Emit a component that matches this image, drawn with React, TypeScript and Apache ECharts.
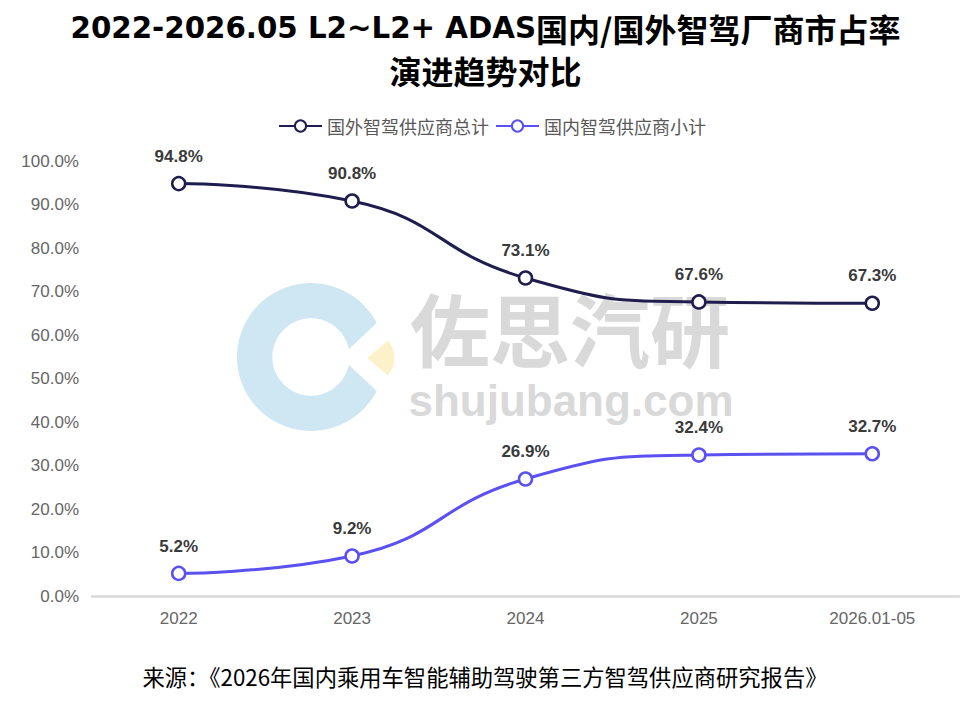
import React, { useEffect, useRef } from "react";
import * as echarts from "echarts";

const categories = ["2022", "2023", "2024", "2025", "2026.01-05"];
const foreignShare = [94.8, 90.8, 73.1, 67.6, 67.3];
const domesticShare = [5.2, 9.2, 26.9, 32.4, 32.7];
const seriesNames = ["国外智驾供应商总计", "国内智驾供应商小计"];
const titleLatin = "2022-2026.05 L2~L2+ ADAS";
const titleCjk1 = "国内/国外智驾厂商市占率";
const titleCjk2 = "演进趋势对比";
const sourceText = "来源：《2026年国内乘用车智能辅助驾驶第三方智驾供应商研究报告》";

const CJK = '"Noto Sans CJK SC", "Liberation Sans", sans-serif';
const LAT = '"Liberation Sans", Arial, sans-serif';

export default function App() {
  const ref = useRef<HTMLDivElement>(null);
  useEffect(() => {
    if (!ref.current) return;
    const chart = echarts.init(ref.current, null, { renderer: "svg" });
    const labelStyle = {
      show: true,
      position: "top" as const,
      distance: 11,
      fontFamily: LAT,
      fontSize: 17,
      fontWeight: "bold" as const,
      color: "#3a3a3a",
      formatter: (p: any) => `${Number(p.value).toFixed(1)}%`,
    };
    chart.setOption({
      animation: false,
      backgroundColor: "#ffffff",
      title: {
        text: `{a|${titleLatin}}{b|${titleCjk1}}\n{b|${titleCjk2}}`,
        left: "center",
        top: 2,
        textStyle: {
          rich: {
            a: {
              fontFamily: '"DejaVu Sans", sans-serif',
              fontSize: 29.3,
              fontWeight: "bold",
              color: "#000000",
              lineHeight: 42,
            },
            b: {
              fontFamily: CJK,
              fontSize: 32,
              fontWeight: "bold",
              color: "#000000",
              lineHeight: 42,
            },
          },
        },
      },
      legend: {
        top: 112,
        left: 273,
        itemWidth: 43,
        itemHeight: 14,
        itemGap: 6,
        textStyle: { fontFamily: CJK, fontSize: 18, color: "#595959" },
        data: seriesNames,
      },
      grid: { left: 92, right: 12, top: 161, bottom: 117, containLabel: false },
      xAxis: {
        type: "category",
        data: categories,
        boundaryGap: true,
        axisLine: { lineStyle: { color: "#d9d9d9", width: 2.5 } },
        axisTick: { show: false },
        axisLabel: { fontFamily: LAT, fontSize: 17, color: "#666666", margin: 14 },
      },
      yAxis: {
        type: "value",
        min: 0,
        max: 100,
        interval: 10,
        axisLine: { show: false },
        axisTick: { show: false },
        splitLine: { show: false },
        axisLabel: {
          fontFamily: LAT,
          fontSize: 17,
          color: "#666666",
          margin: 13,
          formatter: (v: number) => `${v.toFixed(1)}%`,
        },
      },
      graphic: [
        {
          type: "ring",
          z: 0,
          shape: { cx: 311, cy: 357, r: 74, r0: 38.7 },
          style: { fill: "#cfe7f2" },
        },
        {
          type: "polygon",
          z: 0,
          shape: { points: [[340.6, 357], [392, 308.4], [392, 405.6]] },
          style: { fill: "#ffffff" },
        },
        {
          type: "sector",
          z: 0,
          shape: { cx: 367.4, cy: 358, r: 27, r0: 0, startAngle: -0.7, endAngle: 0.7, clockwise: true },
          style: { fill: "#fdf1c9" },
        },
        {
          type: "text",
          z: 0,
          x: 570,
          y: 326,
          style: {
            text: "佐思汽研",
            fontFamily: CJK,
            fontSize: 80,
            fontWeight: "bold",
            fill: "#d9d9d9",
            align: "center",
            verticalAlign: "middle",
          },
        },
        {
          type: "text",
          z: 0,
          x: 571,
          y: 400,
          style: {
            text: "shujubang.com",
            fontFamily: LAT,
            fontSize: 44,
            fontWeight: "bold",
            fill: "#d9d9d9",
            align: "center",
            verticalAlign: "middle",
          },
        },
        {
          type: "text",
          z: 0,
          x: 485,
          y: 676,
          style: {
            text: sourceText,
            fontFamily: CJK,
            fontSize: 22.3,
            fill: "#000000",
            align: "center",
            verticalAlign: "middle",
          },
        },
      ],
      series: [
        {
          name: seriesNames[0],
          type: "line",
          data: foreignShare,
          smooth: 0.5,
          z: 3,
          symbol: "circle",
          symbolSize: 13,
          lineStyle: { color: "#1f1d4e", width: 3 },
          itemStyle: { color: "#ffffff", borderColor: "#1f1d4e", borderWidth: 2.5 },
          label: labelStyle,
        },
        {
          name: seriesNames[1],
          type: "line",
          data: domesticShare,
          smooth: 0.5,
          z: 3,
          symbol: "circle",
          symbolSize: 13,
          lineStyle: { color: "#5b50f0", width: 3 },
          itemStyle: { color: "#ffffff", borderColor: "#5b50f0", borderWidth: 2.5 },
          label: labelStyle,
        },
      ],
    });
    return () => chart.dispose();
  }, []);
  return (
    <div
      ref={ref}
      style={{ position: "absolute", left: 0, top: 0, width: 971, height: 713 }}
    />
  );
}
